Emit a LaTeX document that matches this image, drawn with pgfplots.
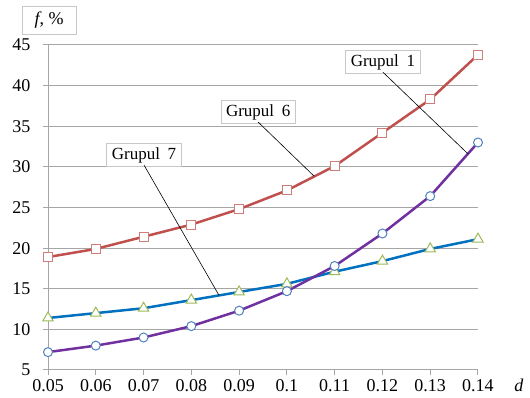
\documentclass[border=0pt]{standalone}
\usepackage{fontspec}
\setmainfont{Liberation Serif}
\usepackage{pgfplots}
\pgfplotsset{compat=1.18}
\definecolor{cred}{HTML}{C0504D}
\definecolor{cblue}{HTML}{0070C0}
\definecolor{cgreen}{HTML}{9BBB59}
\definecolor{cpurple}{HTML}{7030A0}
\definecolor{cmblue}{HTML}{4F81BD}
\definecolor{cgrid}{HTML}{A6A6A6}
\definecolor{cbox}{HTML}{C8C8C8}
\begin{document}
\begin{tikzpicture}[x=1pt,y=1pt]
\path[use as bounding box] (0,0) rectangle (530,398);
\begin{axis}[
  at={(48pt,28pt)}, anchor=south west,
  scale only axis, width=430pt, height=325pt,
  xmin=0.05, xmax=0.14, ymin=5, ymax=45,
  xtick={0.05,0.06,0.07,0.08,0.09,0.1,0.11,0.12,0.13,0.14},
  xticklabels={0.05,0.06,0.07,0.08,0.09,0.1,0.11,0.12,0.13,0.14},
  ytick={5,10,15,20,25,30,35,40,45},
  yticklabels={5,10,15,20,25,30,35,40,45},
  separate axis lines,
  axis x line*=bottom, axis y line*=left,
  ymajorgrids, grid style={draw=cgrid, line width=1pt},
  axis line style={draw=cgrid, line width=1pt},
  tick style={draw=cgrid, line width=1pt},
  tick align=outside, major tick length=5pt,
  ticklabel style={font=\rmfamily\fontsize{18}{20}\selectfont},
  yticklabel style={xshift=-9pt},
  xticklabel style={yshift=-1pt},
  /pgf/number format/assume math mode=true,
  clip=false,
]
\addplot[cred, line width=2.5pt, mark=square*, mark size=4.5pt,
  mark options={fill=white, draw=cred!75!white, line width=1pt}]
  coordinates {(0.05,18.9) (0.06,19.9) (0.07,21.4) (0.08,22.9) (0.09,24.8)
  (0.10,27.1) (0.11,30.1) (0.12,34.2) (0.13,38.3) (0.14,43.8)};
\addplot[cblue, line width=2.5pt, mark=triangle*, mark size=6pt,
  mark options={fill=white, draw=cgreen, line width=1pt}]
  coordinates {(0.05,11.4) (0.06,12.0) (0.07,12.6) (0.08,13.6) (0.09,14.6)
  (0.10,15.6) (0.11,17.1) (0.12,18.4) (0.13,19.9) (0.14,21.1)};
\addplot[cpurple, line width=2.5pt, mark=*, mark size=4.5pt,
  mark options={fill=white, draw=cmblue, line width=1pt}]
  coordinates {(0.05,7.2) (0.06,8.0) (0.07,9.0) (0.08,10.4) (0.09,12.3)
  (0.10,14.7) (0.11,17.8) (0.12,21.8) (0.13,26.4) (0.14,33.0)};
\tikzset{callout/.style={draw=cbox, fill=white, line width=0.8pt, inner xsep=5pt, inner ysep=4pt,
  font=\fontsize{17}{19}\selectfont}}
\node[callout] (g1) at (axis cs:0.1201,42.9) {Grupul\hspace{0.45em}1};
\node[callout] (g6) at (axis cs:0.0940,36.75) {Grupul\hspace{0.45em}6};
\node[callout] (g7) at (axis cs:0.0701,31.46) {Grupul\hspace{0.45em}7};
\draw[black, line width=0.6pt] ([yshift=2pt]g1.south) -- (axis cs:0.1379,31.6);
\draw[black, line width=0.6pt] ([yshift=2pt]g6.south) -- (axis cs:0.1057,28.85);
\draw[black, line width=0.6pt] ([yshift=2pt]g7.south) -- (axis cs:0.0858,14.18);
\end{axis}
\node[draw=cbox, line width=0.8pt, minimum width=54pt, minimum height=28pt, inner sep=0pt,
  font=\fontsize{18}{20}\selectfont] at (49,378) {\textit{f}, \%};
\node[font=\fontsize{18}{20}\selectfont, inner sep=2pt] at (519,13) {\textit{d}};
\end{tikzpicture}
\end{document}
